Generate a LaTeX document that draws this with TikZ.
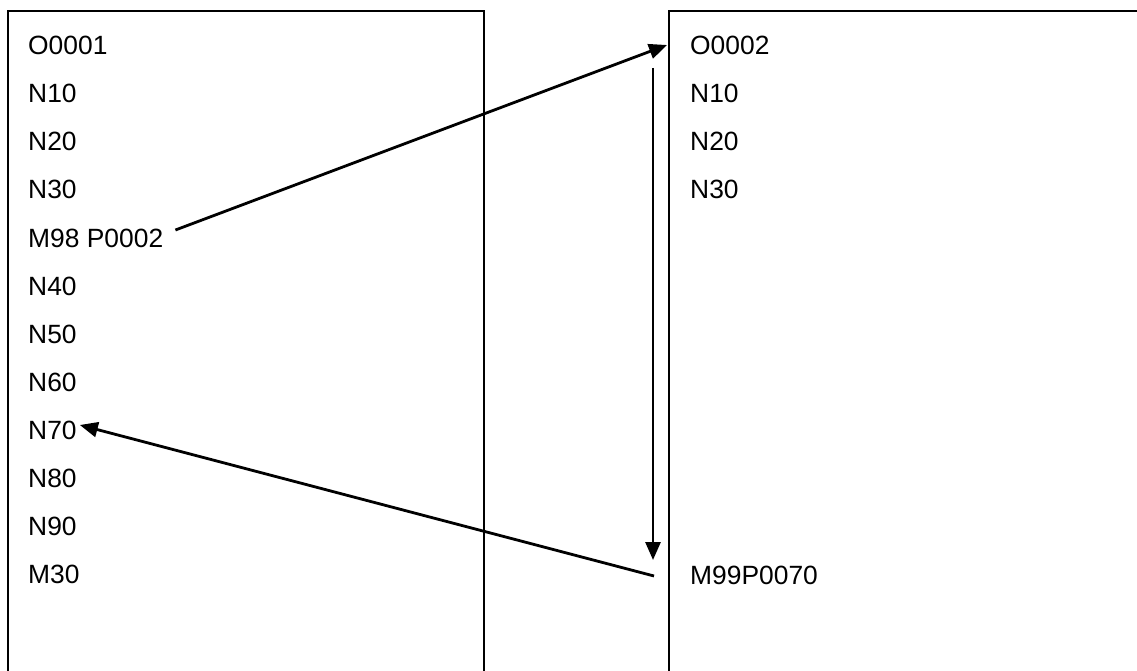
\documentclass[tikz,border=0pt]{standalone}
\usepackage{fontspec}
\setmainfont{Liberation Sans}
\usetikzlibrary{arrows.meta,calc}
\begin{document}
\begin{tikzpicture}[x=1pt,y=-1pt,
  codeline/.style={anchor=base west,inner sep=0pt,font=\fontsize{26.4}{30}\selectfont},
  boxline/.style={line width=1.8pt},
  conn/.style={line width=2.8pt,-{Triangle[length=18pt,width=15pt]}}]
\useasboundingbox (0,0) rectangle (1137,671);
\clip (0,0) rectangle (1137,671);
\fill[white] (0,0) rectangle (1137,671);
\draw[boxline] (8,11) rectangle (484,690);
\draw[boxline] (669,11) rectangle (1150,690);
% left program
\node[codeline] (l0) at (28,55) {O0001};
\node[codeline] (l1) at (28,103) {N10};
\node[codeline] (l2) at (28,151) {N20};
\node[codeline] (l3) at (28,199) {N30};
\node[codeline] (l4) at (28,247) {M98 P0002};
\node[codeline] (l5) at (28,295) {N40};
\node[codeline] (l6) at (28,343) {N50};
\node[codeline] (l7) at (28,391) {N60};
\node[codeline] (l8) at (28,439) {N70};
\node[codeline] (l9) at (28,487) {N80};
\node[codeline] (l10) at (28,535) {N90};
\node[codeline] (l11) at (28,583) {M30};
% right program
\node[codeline] (r0) at (690,55) {O0002};
\node[codeline] (r1) at (690,103) {N10};
\node[codeline] (r2) at (690,151) {N20};
\node[codeline] (r3) at (690,199) {N30};
\node[codeline] (r4) at (690,584) {M99P0070};
% connector ends
\coordinate (callstart) at ($(l4.base east)+(12,-17)$);
\coordinate (calltip) at ($(r0.base west)+(-23,-10)$);
\coordinate (vtop) at (653,68);
\coordinate (vbot) at (653,560);
\coordinate (retstart) at ($(r4.base west)+(-36,-8)$);
\coordinate (rettip) at ($(l8.base east)+(3,-14)$);
\draw[conn] (callstart) -- (calltip);
\draw[conn] (vtop) -- (vbot);
\draw[conn] (retstart) -- (rettip);
\end{tikzpicture}
\end{document}
